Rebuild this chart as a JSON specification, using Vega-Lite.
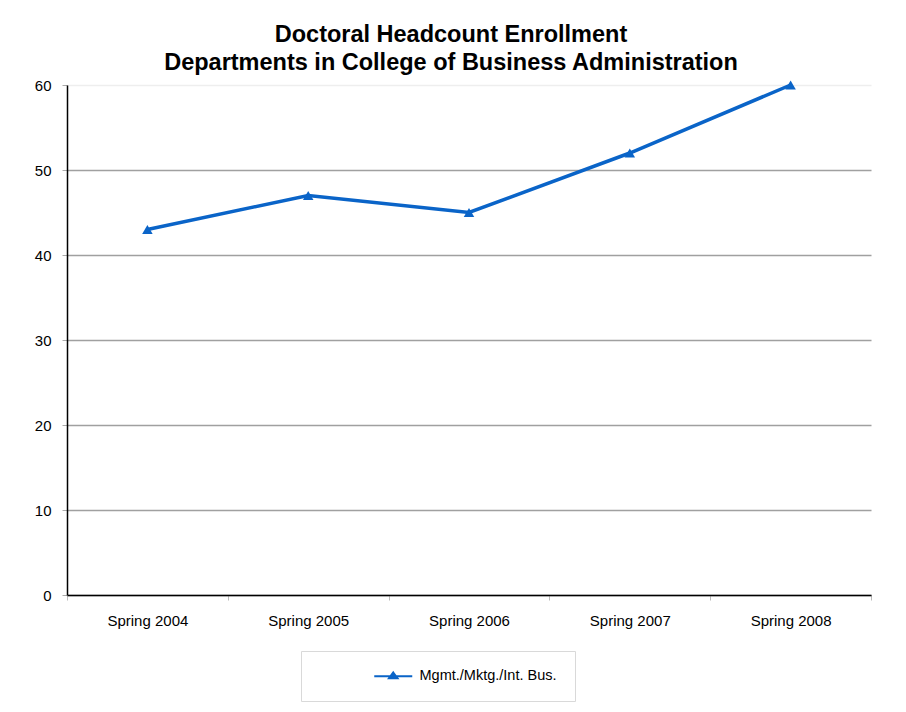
{
  "$schema": "https://vega.github.io/schema/vega-lite/v6.json",
  "width": 804,
  "height": 510,
  "autosize": {"type": "none"},
  "padding": {"left": 67, "top": 85, "right": 35, "bottom": 117},
  "background": "white",
  "title": {
    "text": ["Doctoral Headcount Enrollment", "Departments in College of Business Administration"],
    "font": "Liberation Sans",
    "fontSize": 23.5,
    "fontWeight": "bold",
    "color": "black",
    "anchor": "middle",
    "frame": "group",
    "lineHeight": 28,
    "dx": -18,
    "offset": 4
  },
  "config": {
    "view": {"stroke": null},
    "font": "Liberation Sans"
  },
  "data": {
    "values": [
      {"term": "Spring 2004", "count": 43, "series": "Mgmt./Mktg./Int. Bus."},
      {"term": "Spring 2005", "count": 47, "series": "Mgmt./Mktg./Int. Bus."},
      {"term": "Spring 2006", "count": 45, "series": "Mgmt./Mktg./Int. Bus."},
      {"term": "Spring 2007", "count": 52, "series": "Mgmt./Mktg./Int. Bus."},
      {"term": "Spring 2008", "count": 60, "series": "Mgmt./Mktg./Int. Bus."}
    ]
  },
  "encoding": {
    "x": {
      "field": "term",
      "type": "nominal",
      "sort": null,
      "scale": {"type": "band", "paddingInner": 0, "paddingOuter": 0},
      "axis": {
        "title": null,
        "labelAngle": 0,
        "labelFontSize": 15,
        "labelColor": "black",
        "labelPadding": 13,
        "domainColor": "black",
        "domainWidth": 1.5,
        "tickColor": "#bbbbbb",
        "tickSize": 5,
        "tickBand": "extent",
        "grid": false
      }
    },
    "y": {
      "field": "count",
      "type": "quantitative",
      "scale": {"domain": [0, 60], "nice": false},
      "axis": {
        "title": null,
        "values": [0, 10, 20, 30, 40, 50, 60],
        "labelFontSize": 15,
        "labelColor": "black",
        "labelPadding": 11,
        "domainColor": "black",
        "domainWidth": 1.5,
        "tickColor": "#aaaaaa",
        "tickSize": 5,
        "grid": true,
        "gridColor": {"condition": {"test": "datum.value == 60", "value": "#eeeeee"}, "value": "#a0a0a0"},
        "gridWidth": 1.5
      }
    },
    "color": {
      "field": "series",
      "type": "nominal",
      "scale": {"range": ["#0a64c8"]},
      "legend": {
        "title": null,
        "orient": "none",
        "legendX": 234,
        "legendY": 566,
        "padding": 18,
        "strokeColor": "#d9d9d9",
        "fillColor": "white",
        "labelFontSize": 14.5,
        "labelColor": "black",
        "labelOffset": 19,
        "symbolOffset": 67,
        "symbolType": "M-3.8,0L3.8,0M0,-0.75L0.85,0.4L-0.85,0.4Z",
        "symbolSize": 100,
        "symbolStrokeWidth": 2,
        "symbolFillColor": "#0a64c8",
        "symbolStrokeColor": "#0a64c8"
      }
    }
  },
  "layer": [
    {"mark": {"type": "line", "strokeWidth": 3.5}},
    {"mark": {"type": "point", "shape": "triangle-up", "filled": true, "size": 110, "opacity": 1}}
  ]
}
